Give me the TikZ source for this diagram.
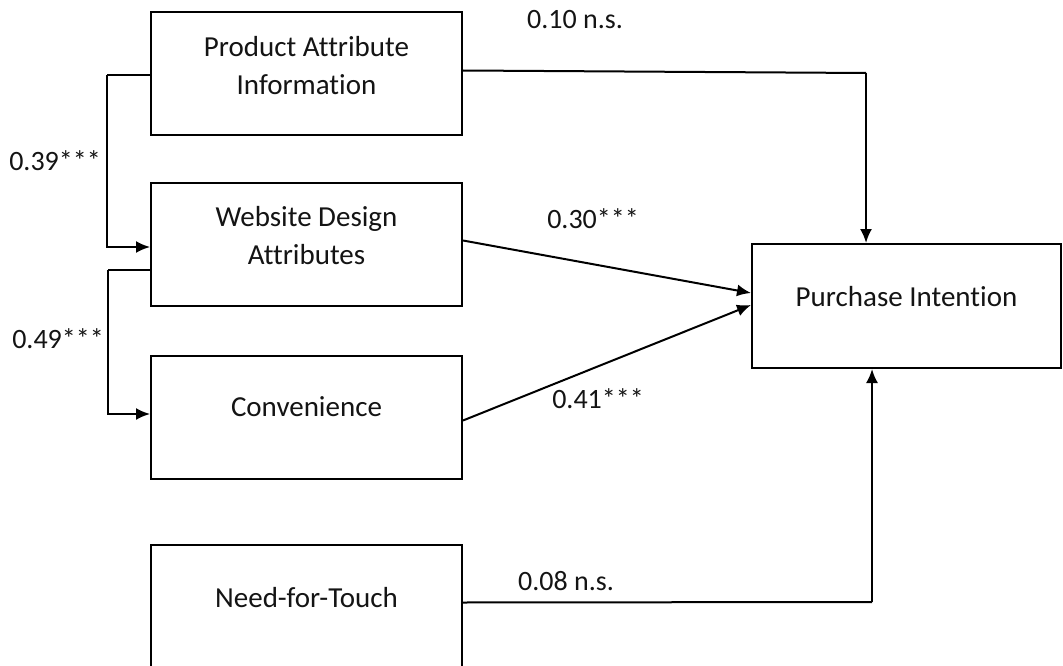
\documentclass[tikz,border=0pt]{standalone}
\usepackage{fontspec}
\setmainfont{Carlito}[Ligatures=NoCommon]
\usetikzlibrary{arrows.meta}
\begin{document}
\begin{tikzpicture}[x=1pt,y=-1pt,
  box/.style={draw, line width=2pt, minimum width=311pt, minimum height=123pt, inner sep=0pt},
  lbl/.style={font=\fontsize{29}{38}\selectfont, align=center, inner sep=0pt, text=black!92},
  coef/.style={font=\fontsize{28}{30}\selectfont, inner sep=0pt, text=black!92},
  conn/.style={line width=2pt},
  arr/.style={line width=2pt, -{Latex[length=14pt,width=12pt]}}]
\clip (0,0) rectangle (1063,666);
\fill[white] (0,0) rectangle (1063,666);
% boxes
\node[box] (pai) at (306.5,73.5) {};
\node[box] (wda) at (306.5,244.5) {};
\node[box] (conv) at (306.5,417.5) {};
\node[box] (nft) at (306.5,606.5) {};
\node[box, minimum width=309pt, minimum height=124pt] (pi) at (906.5,306) {};
% box texts
\node[lbl] (tpai) at ([yshift=8pt]pai.center) {Product Attribute\\Information};
\node[lbl] (twda) at ([yshift=9pt]wda.center) {Website Design\\Attributes};
\node[lbl] (tconv) at ([yshift=11pt]conv.center) {Convenience};
\node[lbl] (tnft) at ([yshift=9pt]nft.center) {Need-for-Touch};
\node[lbl] (tpi) at ([yshift=9pt]pi.center) {Purchase Intention};
% connectors to purchase intention
\coordinate (c1) at (866,73);
\draw[conn] ([yshift=3pt]pai.east) -- (c1);
\draw[arr] (c1) -- (c1 |- pi.north);
\draw[arr] ([yshift=4pt]wda.east) -- ([yshift=13pt]pi.west);
\draw[arr] ([yshift=-3pt]conv.east) -- ([yshift=1pt]pi.west);
\coordinate (c2) at (872,602);
\draw[conn] ([yshift=4pt]nft.east) -- (c2);
\draw[arr] (c2) -- (c2 |- pi.south);
% left brackets
\coordinate (b1) at (107,75);
\coordinate (b2) at (107,247);
\draw[conn] ([yshift=-1.5pt]pai.west) -- (b1);
\draw[arr] (b1) -- (b2) -- (b2 -| wda.west);
\coordinate (b3) at (108,270);
\coordinate (b4) at (108,414);
\draw[conn] ([yshift=-25.5pt]wda.west) -- (b3);
\draw[arr] (b3) -- (b4) -- (b4 -| conv.west);
% coefficient labels
\node[coef] (l1) at (575,20) {0.10 n.s.};
\node[coef] (l2) at (593,219) {0.30***};
\node[coef] (l3) at (598,399) {0.41***};
\node[coef] (l4) at (566,581) {0.08 n.s.};
\node[coef] (l5) at (55,161) {0.39***};
\node[coef] (l6) at (58,339) {0.49***};
\end{tikzpicture}
\end{document}
